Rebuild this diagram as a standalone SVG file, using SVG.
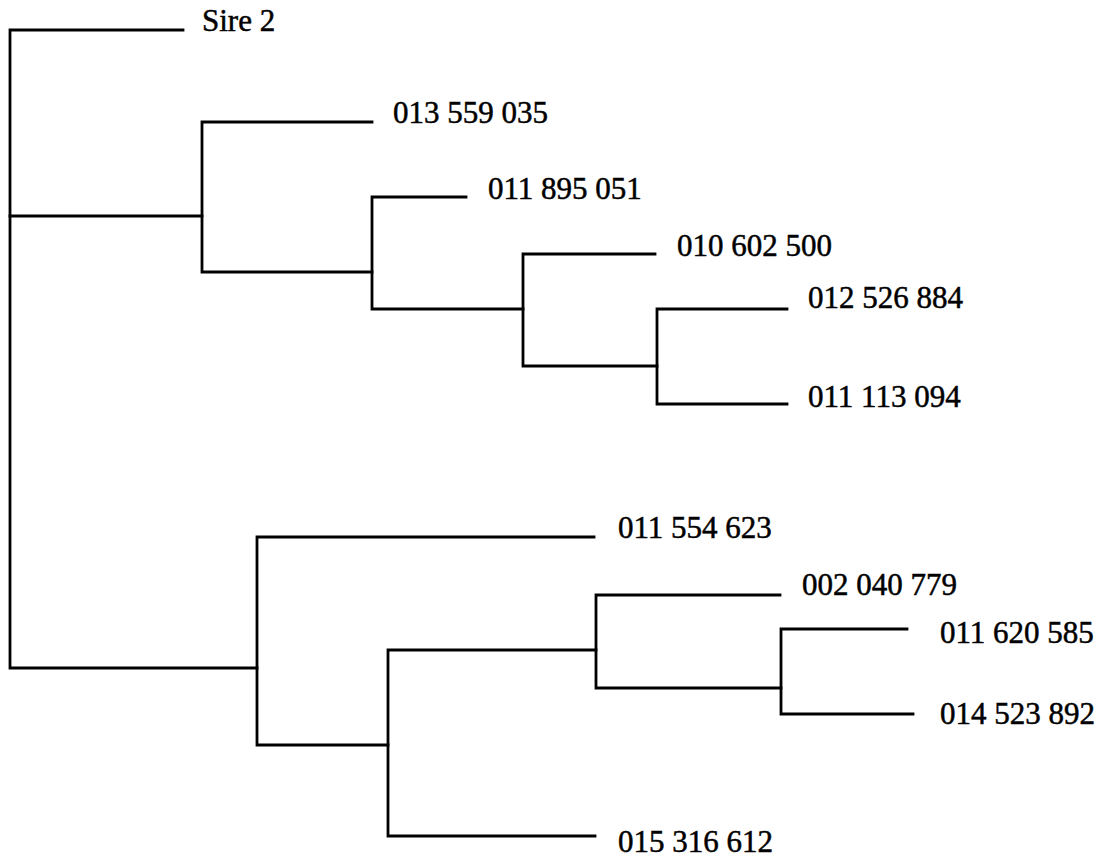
<svg xmlns="http://www.w3.org/2000/svg" width="1107" height="864" viewBox="0 0 1107 864">
  <style>
    .edge { fill: none; stroke: #000; stroke-width: 2.8; stroke-linecap: square; stroke-linejoin: miter; }
    .label { font-family: "Liberation Serif", "Times New Roman", serif; font-size: 31px; fill: #000; stroke: #000; stroke-width: 0.5; }
  </style>
  <rect width="1107" height="864" fill="#fff"/>

  <!-- Dendrogram branches -->
  <g id="connectors">
    <!-- root -->
    <path class="edge" d="M183,30 H10 V668 H257"/>
    <path class="edge" d="M10,216 H202"/>
    <!-- upper clade -->
    <path class="edge" d="M372,122 H202 V272 H372"/>
    <path class="edge" d="M466,197 H372 V309 H523"/>
    <path class="edge" d="M655,254 H523 V366 H657"/>
    <path class="edge" d="M787,309 H657 V404 H787"/>
    <!-- lower clade -->
    <path class="edge" d="M594,537 H257 V745 H388"/>
    <path class="edge" d="M596,650 H388 V836 H595"/>
    <path class="edge" d="M780,595 H596 V688 H781"/>
    <path class="edge" d="M907,629 H781 V714 H913"/>
  </g>

  <!-- Leaf labels -->
  <g id="leaf-sire2"><text class="label" x="202" y="31">Sire 2</text></g>
  <g id="leaf-013559035"><text class="label" x="393" y="123">013 559 035</text></g>
  <g id="leaf-011895051"><text class="label" x="488" y="199">011 895 051</text></g>
  <g id="leaf-010602500"><text class="label" x="677" y="256">010 602 500</text></g>
  <g id="leaf-012526884"><text class="label" x="808" y="308">012 526 884</text></g>
  <g id="leaf-011113094"><text class="label" x="808" y="407">011 113 094</text></g>
  <g id="leaf-011554623"><text class="label" x="618" y="538">011 554 623</text></g>
  <g id="leaf-002040779"><text class="label" x="802" y="595">002 040 779</text></g>
  <g id="leaf-011620585"><text class="label" x="940" y="643">011 620 585</text></g>
  <g id="leaf-014523892"><text class="label" x="940" y="724">014 523 892</text></g>
  <g id="leaf-015316612"><text class="label" x="618" y="852">015 316 612</text></g>
</svg>
